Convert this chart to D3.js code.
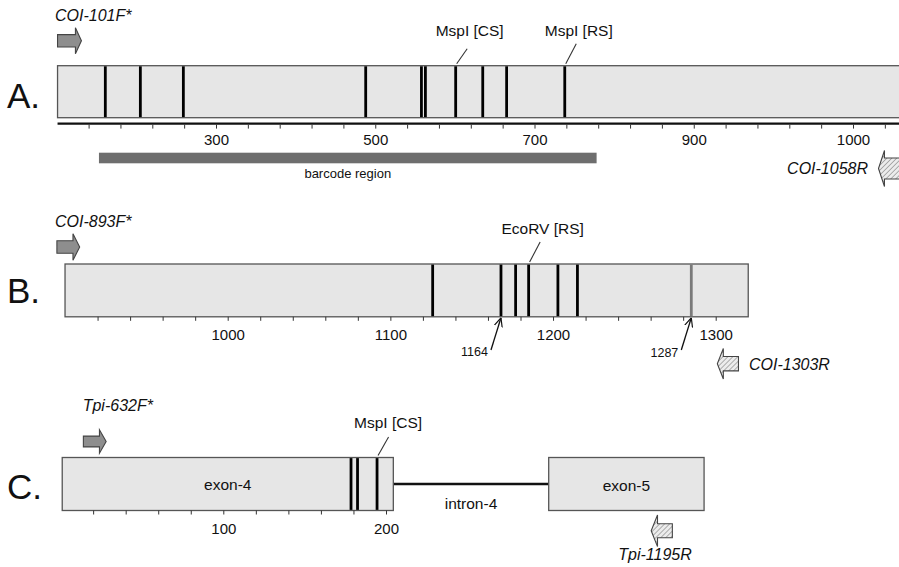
<!DOCTYPE html>
<html>
<head>
<meta charset="utf-8">
<script src="https://cdn.jsdelivr.net/npm/d3@7"></script>
<style>
body { margin: 0; background: #fff; }
text { font-family: "Liberation Sans", Arial, sans-serif; fill: #111; }
</style>
</head>
<body>
<svg width="899" height="567"></svg>
<script>
// panel A: COI 5' fragment
var aSpan = [101, 1170];
var aSites = [161, 205, 259, 488, 558, 563, 601, 635, 665, 738];
var aTicks = d3.range(140, 1160, 40);
var aLabelTicks = [300, 500, 700, 900, 1100];
var aLabelText = ["300", "500", "700", "900", "1000"];
var barcodeSpan = [153, 778];

// panel B: COI 3' fragment
var bSpan = [900, 1320];
var bSites = [1126, 1168, 1177, 1185, 1203, 1215];
var bGreySites = [1285];
var bTicks = d3.range(920, 1301, 20);
var bLabelTicks = [1000, 1100, 1200, 1300];
var bLabelText = ["1000", "1100", "1200", "1300"];
var bMarkSites = [1168, 1285];
var bMarkText = ["1164", "1287"];

// panel C: Tpi exon-4 / exon-5
var cExonName = ["exon-4", "exon-5"];
var cExonStart = [1, 300];
var cExonEnd = [204.5, 395.5];
var cSites = [178.5, 182.5, 194.5];
var cTicks = d3.range(20, 201, 20);
var cLabelTicks = [100, 200];
var cLabelText = ["100", "200"];

// enzyme labels
var enzText = ["MspI [CS]", "MspI [RS]", "EcoRV [RS]", "MspI [CS]"];
var enzPanel = ["A", "A", "B", "C"];
var enzSite = [601, 738, 1185, 194.5];

// primers
var primerName = ["COI-101F*", "COI-1058R", "COI-893F*", "COI-1303R", "Tpi-632F*", "Tpi-1195R"];
var primerPanel = ["A", "A", "B", "B", "C", "C"];
var primerFrom = [101, 1132, 895, 1301, 14, 363];
var primerTo = [131, 1170, 909, 1314, 28, 376];

var svg = d3.select("svg");

var panels = {
	A: { x: d3.scaleLinear().domain([300, 1100]).range([216, 853]), top: 65.7, bot: 117.7 },
	B: { x: d3.scaleLinear().domain([1000, 1300]).range([227.7, 715.7]), top: 264, bot: 316.8 },
	C: { x: d3.scaleLinear().domain([100, 200]).range([223.3, 386]), top: 457.5, bot: 510.5 }
};

var defs = svg.append("defs");
var hatch = defs.append("pattern")
	.attr("id", "hatch")
	.attr("patternUnits", "userSpaceOnUse")
	.attr("width", 3.5).attr("height", 3.5)
	.attr("patternTransform", "rotate(45)");
hatch.append("rect").attr("width", 3.5).attr("height", 3.5).attr("fill", "#ececec");
hatch.append("line").attr("x1", 0).attr("y1", 0).attr("x2", 0).attr("y2", 3.5)
	.attr("stroke", "#8a8a8a").attr("stroke-width", 1.3);

defs.append("marker")
	.attr("id", "open")
	.attr("viewBox", "0 -5 10 10")
	.attr("refX", 10).attr("refY", 0)
	.attr("markerUnits", "userSpaceOnUse")
	.attr("markerWidth", 9).attr("markerHeight", 9)
	.attr("orient", "auto")
	.append("path")
	.attr("d", "M0,-4.5L10,0L0,4.5")
	.attr("fill", "none").attr("stroke", "#111").attr("stroke-width", 1.3);

// panel letters
var letterY = { A: 108, B: 303, C: 499 };
Object.keys(letterY).forEach(function(k) {
	svg.append("text").attr("x", 7).attr("y", letterY[k])
		.attr("font-size", 35).text(k + ".");
});

function drawBox(p, from, to) {
	svg.append("rect")
		.attr("x", p.x(from)).attr("y", p.top)
		.attr("width", p.x(to) - p.x(from)).attr("height", p.bot - p.top)
		.attr("fill", "#e6e6e6").attr("stroke", "#555").attr("stroke-width", 1.3);
}

function drawSites(p, sites, color) {
	svg.append("g").selectAll("line")
		.data(sites)
		.enter().append("line")
		.attr("x1", function(d) { return p.x(d); })
		.attr("x2", function(d) { return p.x(d); })
		.attr("y1", p.top + 0.6).attr("y2", p.bot - 0.6)
		.attr("stroke", color).attr("stroke-width", 2.8);
}

function drawAxis(p, y, ticks, labelTicks, labelText, labelY) {
	var minor = svg.append("g")
		.attr("transform", "translate(0," + y + ")")
		.call(d3.axisBottom(p.x).tickValues(ticks).tickSize(4).tickFormat(""));
	minor.select(".domain").remove();
	minor.selectAll(".tick line").attr("stroke", "#333");

	var major = svg.append("g")
		.attr("transform", "translate(0," + y + ")")
		.call(d3.axisBottom(p.x).tickValues(labelTicks).tickSize(0)
			.tickFormat(function(d, i) { return labelText[i]; }));
	major.select(".domain").remove();
	major.selectAll(".tick text")
		.attr("y", labelY - y).attr("dy", null)
		.attr("font-family", "Liberation Sans, Arial, sans-serif")
		.attr("font-size", 15).attr("fill", "#111");
}

// ---- A ----
var pA = panels.A;
drawBox(pA, aSpan[0], aSpan[1]);
drawSites(pA, aSites, "#000");
svg.append("line")
	.attr("x1", pA.x(aSpan[0])).attr("x2", 899)
	.attr("y1", 123.6).attr("y2", 123.6)
	.attr("stroke", "#111").attr("stroke-width", 2.2);
drawAxis(pA, 124.6, aTicks, aLabelTicks, aLabelText, 145);

svg.append("rect")
	.attr("x", pA.x(barcodeSpan[0])).attr("y", 152.7)
	.attr("width", pA.x(barcodeSpan[1]) - pA.x(barcodeSpan[0])).attr("height", 10.6)
	.attr("fill", "#6e6e6e");
svg.append("text")
	.attr("x", (pA.x(barcodeSpan[0]) + pA.x(barcodeSpan[1])) / 2).attr("y", 178)
	.attr("text-anchor", "middle").attr("font-size", 13)
	.text("barcode region");

// ---- B ----
var pB = panels.B;
drawBox(pB, bSpan[0], bSpan[1]);
drawSites(pB, bSites, "#000");
drawSites(pB, bGreySites, "#7a7a7a");
drawAxis(pB, pB.bot, bTicks, bLabelTicks, bLabelText, 340);

bMarkSites.forEach(function(s, i) {
	var tx = pB.x(s);
	svg.append("line")
		.attr("x1", tx - 10).attr("y1", 350)
		.attr("x2", tx).attr("y2", pB.bot + 1)
		.attr("stroke", "#111").attr("stroke-width", 1.3)
		.attr("marker-end", "url(#open)");
	svg.append("text")
		.attr("x", tx - 13).attr("y", 355.5 + i * 1.5)
		.attr("text-anchor", "end").attr("font-size", 12.5)
		.text(bMarkText[i]);
});

// ---- C ----
var pC = panels.C;
svg.append("line")
	.attr("x1", pC.x(cExonEnd[0])).attr("x2", pC.x(cExonStart[1]))
	.attr("y1", 484).attr("y2", 484)
	.attr("stroke", "#111").attr("stroke-width", 2.6);
svg.append("text")
	.attr("x", (pC.x(cExonEnd[0]) + pC.x(cExonStart[1])) / 2).attr("y", 509)
	.attr("text-anchor", "middle").attr("font-size", 15.5)
	.text("intron-4");

cExonName.forEach(function(name, i) {
	drawBox(pC, cExonStart[i], cExonEnd[i]);
	svg.append("text")
		.attr("x", (pC.x(cExonStart[i]) + pC.x(cExonEnd[i])) / 2)
		.attr("y", (pC.top + pC.bot) / 2 + 5.5 + i * 1.5)
		.attr("text-anchor", "middle").attr("font-size", 15.5)
		.text(name);
});
drawSites(pC, cSites, "#000");
drawAxis(pC, pC.bot, cTicks, cLabelTicks, cLabelText, 534);

// ---- enzyme labels ----
var enzRise = [15, 20, 20, 18.5];
enzText.forEach(function(t, i) {
	var p = panels[enzPanel[i]];
	var sx = p.x(enzSite[i]) + 1;
	var y0 = p.top - 2;
	var y1 = y0 - enzRise[i];
	svg.append("line")
		.attr("x1", sx).attr("y1", y0)
		.attr("x2", sx + 10.5).attr("y2", y1)
		.attr("stroke", "#333").attr("stroke-width", 1.1);
	svg.append("text")
		.attr("x", sx + (i == 3 ? 10 : 13)).attr("y", p.top - 30)
		.attr("text-anchor", "middle").attr("font-size", 15.5)
		.text(t);
});

// ---- primers ----
// arrow shape and label placement for each primer, in drawing order
var primerLook = [
	{ cy: 40.8, bh: 6.2, hh: 13, hl: 6, lx: 55, ly: 21, anchor: "start" },
	{ cy: 168.5, bh: 10.5, hh: 18, hl: 6, lx: 868, ly: 174, anchor: "end" },
	{ cy: 247, bh: 6.3, hh: 13.3, hl: 6.7, lx: 55, ly: 227, anchor: "start" },
	{ cy: 363.7, bh: 7.2, hh: 15.3, hl: 6, lx: 749, ly: 370, anchor: "start" },
	{ cy: 441.5, bh: 5.4, hh: 11.7, hl: 6.7, lx: 82.7, ly: 410.5, anchor: "start" },
	{ cy: 530.8, bh: 7, hh: 15.8, hl: 6.3, lx: 655, ly: 560, anchor: "middle" }
];

primerName.forEach(function(name, i) {
	var p = panels[primerPanel[i]];
	var L = primerLook[i];
	var x0 = p.x(primerFrom[i]), x1 = p.x(primerTo[i]);
	var fwd = name.indexOf("F") > -1;
	var pts;
	if (fwd) {
		pts = [[x0, L.cy - L.bh], [x1 - L.hl, L.cy - L.bh], [x1 - L.hl, L.cy - L.hh], [x1, L.cy],
			[x1 - L.hl, L.cy + L.hh], [x1 - L.hl, L.cy + L.bh], [x0, L.cy + L.bh]];
	} else {
		pts = [[x1, L.cy - L.bh], [x0 + L.hl, L.cy - L.bh], [x0 + L.hl, L.cy - L.hh], [x0, L.cy],
			[x0 + L.hl, L.cy + L.hh], [x0 + L.hl, L.cy + L.bh], [x1, L.cy + L.bh]];
	}
	svg.append("path")
		.attr("d", d3.line()(pts) + "Z")
		.attr("fill", fwd ? "#8e8e8e" : "url(#hatch)")
		.attr("stroke", "#444").attr("stroke-width", 1.1);
	svg.append("text")
		.attr("x", L.lx).attr("y", L.ly)
		.attr("text-anchor", L.anchor)
		.attr("font-size", 16).attr("font-style", "italic")
		.text(name);
});
</script>
</body>
</html>
